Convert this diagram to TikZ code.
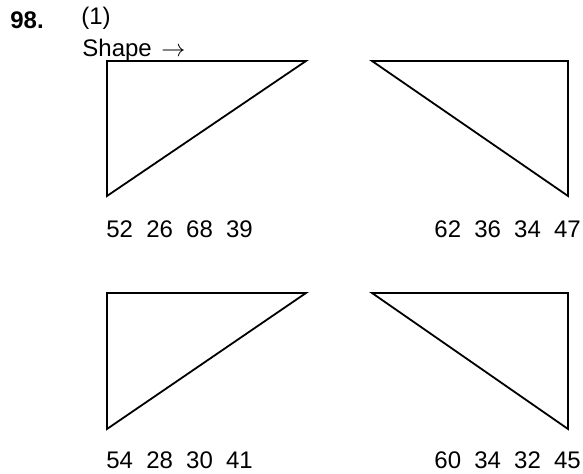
\documentclass[tikz,border=0pt]{standalone}
\usepackage{fontspec}
\setmainfont{Liberation Sans}
\usepackage{tikz}
\usetikzlibrary{calc}

\newcommand{\numgap}{\hspace{0.55em}}

\begin{document}
\begin{tikzpicture}[x=0.5pt, y=-0.5pt,
    every node/.style={inner sep=0pt, anchor=base west, font=\fontsize{12}{14}\selectfont},
    tri/.style={line width=0.9pt, line join=miter}]
  % ----- frame of the picture -----
  \useasboundingbox (0, 0) rectangle (583, 474);

  % ----- heading -----
  \node[font=\fontsize{12}{14}\selectfont\bfseries] (qnum) at (10, 29) {98.};
  \node (part) at (81, 25) {(1)};
  \node (shape) at (82, 57) {Shape\hspace{0.4em}$\rightarrow$};

  % ----- upper row of triangles -----
  \draw[tri] (107, 61) -- (306, 61) -- (107, 196) -- cycle;
  \draw[tri] (372, 61) -- (568, 61) -- (568, 196) -- cycle;
  \node (numA) at (106, 238) {52\numgap 26\numgap 68\numgap 39};
  \node (numB) at (434, 238) {62\numgap 36\numgap 34\numgap 47};

  % ----- lower row of triangles -----
  \draw[tri] (107, 293) -- (306, 293) -- (107, 429) -- cycle;
  \draw[tri] (372, 293) -- (568, 293) -- (568, 429) -- cycle;
  \node (numC) at (106, 469) {54\numgap 28\numgap 30\numgap 41};
  \node (numD) at (434, 469) {60\numgap 34\numgap 32\numgap 45};
\end{tikzpicture}
\end{document}
